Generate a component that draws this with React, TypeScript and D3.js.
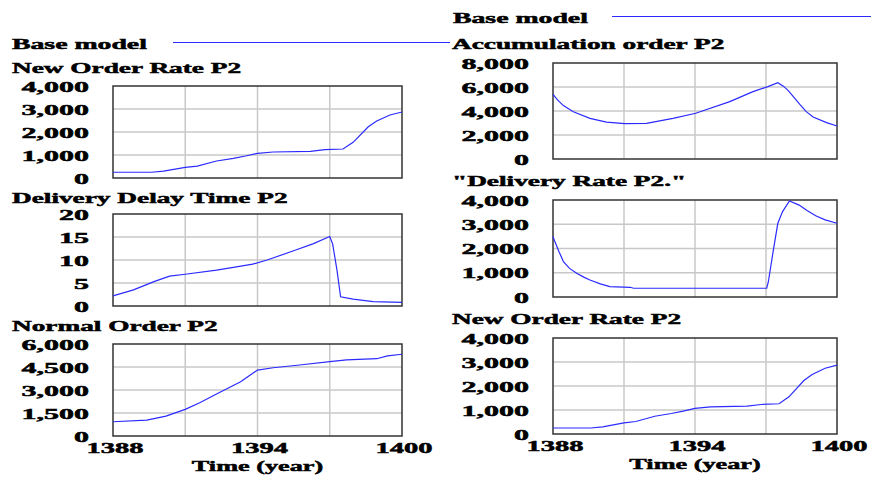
import React from "react";
import * as d3 from "d3";

// Simulation output, time in years (Solar Hijri calendar)
const newOrderYears = [1388, 1389.6, 1390.1, 1391, 1391.5, 1392.3, 1393, 1393.5, 1394, 1394.65, 1396.2, 1396.8, 1397.55, 1397.97, 1398.6, 1398.95, 1399.5, 1400];
const newOrderRate = [250, 250, 300, 465, 520, 740, 855, 955, 1070, 1130, 1160, 1230, 1260, 1550, 2230, 2480, 2740, 2870];

const delayYears = [1388, 1388.85, 1389.7, 1390.35, 1391, 1392.3, 1393, 1393.8, 1394.4, 1395.5, 1396.3, 1397, 1397.12, 1397.3, 1397.45, 1397.97, 1398.8, 1400];
const deliveryDelay = [2.2, 3.5, 5.3, 6.5, 6.9, 7.8, 8.4, 9.1, 10, 12, 13.5, 15.1, 13.5, 7.8, 2.0, 1.5, 0.95, 0.8];

const normalYears = [1388, 1389.4, 1390.2, 1391, 1391.6, 1392.3, 1393.3, 1394, 1394.65, 1395.75, 1397, 1397.7, 1398.95, 1399.4, 1400];
const normalOrder = [930, 1040, 1300, 1740, 2170, 2740, 3540, 4300, 4450, 4630, 4850, 4960, 5040, 5220, 5330];

const accumYears = [1388, 1388.2, 1388.44, 1388.86, 1389.56, 1390.26, 1391.03, 1391.95, 1393.07, 1394.03, 1395.47, 1396.45, 1397.08, 1397.5, 1397.75, 1397.94, 1398.2, 1398.43, 1398.7, 1398.99, 1399.56, 1400];
const accumulationOrder = [5390, 4900, 4450, 3940, 3390, 3080, 2940, 2970, 3390, 3810, 4780, 5610, 6030, 6360, 6050, 5700, 5100, 4550, 3950, 3500, 3030, 2750];

const deliveryYears = [1388, 1388.07, 1388.25, 1388.44, 1388.7, 1389, 1389.3, 1389.56, 1390, 1390.4, 1391.27, 1391.4, 1397.03, 1397.1, 1397.3, 1397.5, 1397.7, 1397.99, 1398.4, 1398.75, 1399.1, 1399.5, 1400];
const deliveryRate = [2490, 2310, 1880, 1460, 1180, 980, 820, 700, 540, 425, 400, 360, 360, 630, 1870, 3040, 3520, 3960, 3790, 3560, 3350, 3180, 3040];

const xTickYears = [1388, 1394, 1400];
const xGridYears = [1391, 1394, 1397];
const legendLabel = "Base model";
const xAxisTitle = "Time (year)";

type Panel = {
  title: string;
  years: number[];
  values: number[];
  yMax: number;
  ticks: number[];
  box: [number, number, number, number]; // x0, x1, y0, y1
  titleY: number;
  xAxis: boolean;
};

const fmt = d3.format(",");

const panels: Panel[] = [
  { title: "New Order Rate P2", years: newOrderYears, values: newOrderRate, yMax: 4000, ticks: [0, 1000, 2000, 3000, 4000], box: [113, 402, 86, 178], titleY: 73, xAxis: false },
  { title: "Delivery Delay Time P2", years: delayYears, values: deliveryDelay, yMax: 20, ticks: [0, 5, 10, 15, 20], box: [113, 402, 214, 306], titleY: 203, xAxis: false },
  { title: "Normal Order P2", years: normalYears, values: normalOrder, yMax: 6000, ticks: [0, 1500, 3000, 4500, 6000], box: [113, 402, 344, 436], titleY: 331, xAxis: true },
  { title: "Accumulation order P2", years: accumYears, values: accumulationOrder, yMax: 8000, ticks: [0, 2000, 4000, 6000, 8000], box: [553, 837, 63, 159], titleY: 49, xAxis: false },
  { title: "\"Delivery Rate P2.\"", years: deliveryYears, values: deliveryRate, yMax: 4000, ticks: [0, 1000, 2000, 3000, 4000], box: [553, 837, 200, 297], titleY: 186, xAxis: false },
  { title: "New Order Rate P2", years: newOrderYears, values: newOrderRate, yMax: 4000, ticks: [0, 1000, 2000, 3000, 4000], box: [553, 837, 338, 434], titleY: 324, xAxis: true },
];

const FONT = "'Liberation Serif', 'Times New Roman', serif";

function SText({ x, y, sx, anchor = "start", size = 15, children }: { x: number; y: number; sx: number; anchor?: string; size?: number; children: React.ReactNode }) {
  return (
    <text
      transform={`translate(${x},${y}) scale(${sx},1)`}
      textAnchor={anchor as any}
      fontFamily={FONT}
      fontWeight="bold"
      fontSize={size}
      fill="#000"
      stroke="#000"
      strokeWidth={0.5}
    >
      {children}
    </text>
  );
}

function PanelView({ p }: { p: Panel }) {
  const [x0, x1, y0, y1] = p.box;
  const x = d3.scaleLinear().domain([1388, 1400]).range([x0, x1]);
  const y = d3.scaleLinear().domain([0, p.yMax]).range([y1, y0]);
  const line = d3.line<number>().x((_, i) => x(p.years[i])).y((v) => y(v));
  const titleX = x0 - 101;
  return (
    <g>
      <SText x={titleX} y={p.titleY} sx={1.82}>{p.title}</SText>
      {p.ticks.slice(1, -1).map((t) => (
        <line key={"h" + t} x1={x0} x2={x1} y1={y(t)} y2={y(t)} stroke="#c8c8c8" strokeWidth={1.5} />
      ))}
      {xGridYears.map((t) => (
        <line key={"v" + t} x1={x(t)} x2={x(t)} y1={y0} y2={y1} stroke="#c8c8c8" strokeWidth={1.5} />
      ))}
      <rect x={x0} y={y0} width={x1 - x0} height={y1 - y0} fill="none" stroke="#333" strokeWidth={1.5} />
      {p.ticks.map((t) => (
        <SText key={"t" + t} x={x0 - 24} y={y(t) + 5.5} sx={2.0} anchor="end">{fmt(t)}</SText>
      ))}
      <path d={line(p.values) || ""} fill="none" stroke="#2b2bff" strokeWidth={1.2} />
      {p.xAxis && (
        <g>
          {xTickYears.map((t) => (
            <SText key={"x" + t} x={x(t) + 2} y={y1 + 17} sx={1.9} anchor="middle">{t}</SText>
          ))}
          <SText x={x(1394)} y={y1 + 35} sx={1.75} anchor="middle">{xAxisTitle}</SText>
        </g>
      )}
    </g>
  );
}

export default function App() {
  return (
    <svg width={871} height={477} style={{ position: "absolute", left: 0, top: 0, background: "#fff" }}>
      <rect width={871} height={477} fill="#fff" />
      {/* legends */}
      <SText x={453} y={23} sx={1.85}>{legendLabel}</SText>
      <line x1={612} x2={871} y1={16.5} y2={16.5} stroke="#2b2bff" strokeWidth={1.2} />
      <SText x={12} y={49} sx={1.85}>{legendLabel}</SText>
      <line x1={173} x2={450} y1={42.5} y2={42.5} stroke="#2b2bff" strokeWidth={1.2} />
      {panels.map((p, i) => (
        <PanelView key={i} p={p} />
      ))}
    </svg>
  );
}
